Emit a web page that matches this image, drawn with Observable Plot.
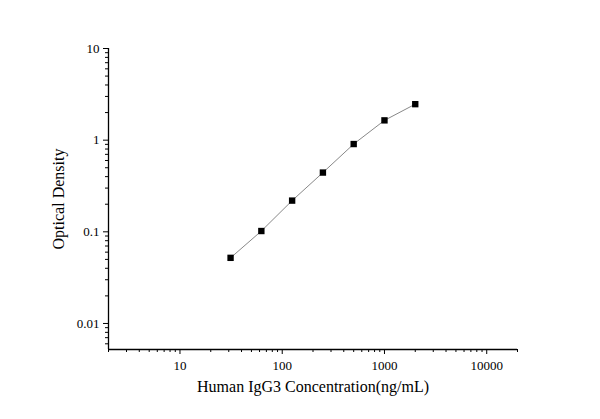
<!DOCTYPE html>
<html>
<head>
<meta charset="utf-8">
<script src="https://cdn.jsdelivr.net/npm/d3@7"></script>
<script src="https://cdn.jsdelivr.net/npm/@observablehq/plot@0.6"></script>
<style>
  html, body { margin: 0; padding: 0; background: #fff; }
</style>
</head>
<body>
<div id="chart"></div>
<script>
const concentrations = [31.25, 62.5, 125, 250, 500, 1000, 2000];
const opticalDensity = [0.052, 0.102, 0.219, 0.443, 0.907, 1.644, 2.47];
const xTickValues = [10, 100, 1000, 10000];
const yTickValues = [0.01, 0.1, 1, 10];
const yTickLabels = ["0.01", "0.1", "1", "10"];
const xDomain = [2, 20000];
const yDomain = [0.0052, 10];

const data = concentrations.map((c, i) => ({x: c, y: opticalDensity[i]}));

function minorTicks([lo, hi]) {
  const out = [];
  for (let e = Math.floor(Math.log10(lo)); e <= Math.ceil(Math.log10(hi)); e++) {
    for (let k = 2; k <= 9; k++) {
      const v = k * Math.pow(10, e);
      if (v >= lo * 0.999 && v <= hi * 1.001) out.push(v);
    }
  }
  return out;
}

const font = "'Liberation Serif', 'Times New Roman', serif";

const chart = Plot.plot({
  width: 600,
  height: 419,
  marginLeft: 108,
  marginRight: 83,
  marginTop: 48,
  marginBottom: 70,
  style: {fontFamily: font, fontSize: "13px", color: "#000", background: "#fff"},
  x: {type: "log", domain: xDomain},
  y: {type: "log", domain: yDomain},
  marks: [
    Plot.axisX({ticks: minorTicks(xDomain), tickSize: 3, tickFormat: () => "", label: null, stroke: "#000"}),
    Plot.axisY({ticks: minorTicks(yDomain), tickSize: 3, tickFormat: () => "", label: null, stroke: "#000"}),
    Plot.axisX({ticks: xTickValues, tickSize: 5, tickPadding: 6, tickFormat: d => String(d),
      label: "Human IgG3 Concentration(ng/mL)", labelAnchor: "center", labelArrow: "none", labelOffset: 42,
      fontSize: 13, stroke: "#000"}),
    Plot.axisY({ticks: yTickValues, tickSize: 5, tickPadding: 4, tickFormat: d => yTickLabels[yTickValues.indexOf(d)],
      label: "Optical Density", labelAnchor: "center", labelArrow: "none", labelOffset: 56,
      fontSize: 13, stroke: "#000"}),
    Plot.ruleX([xDomain[0]], {stroke: "#000", strokeWidth: 1.3}),
    Plot.ruleY([yDomain[0]], {stroke: "#000", strokeWidth: 1.3}),
    Plot.line(data, {x: "x", y: "y", stroke: "#888", strokeWidth: 1}),
    Plot.dot(data, {x: "x", y: "y", symbol: "square", fill: "#000", r: 3.6, stroke: "none"})
  ]
});

chart.querySelectorAll("g[aria-label='x-axis label'] text, g[aria-label='y-axis label'] text").forEach(t => {
  t.style.fontSize = "16px";
});
document.getElementById("chart").appendChild(chart);
</script>
</body>
</html>
